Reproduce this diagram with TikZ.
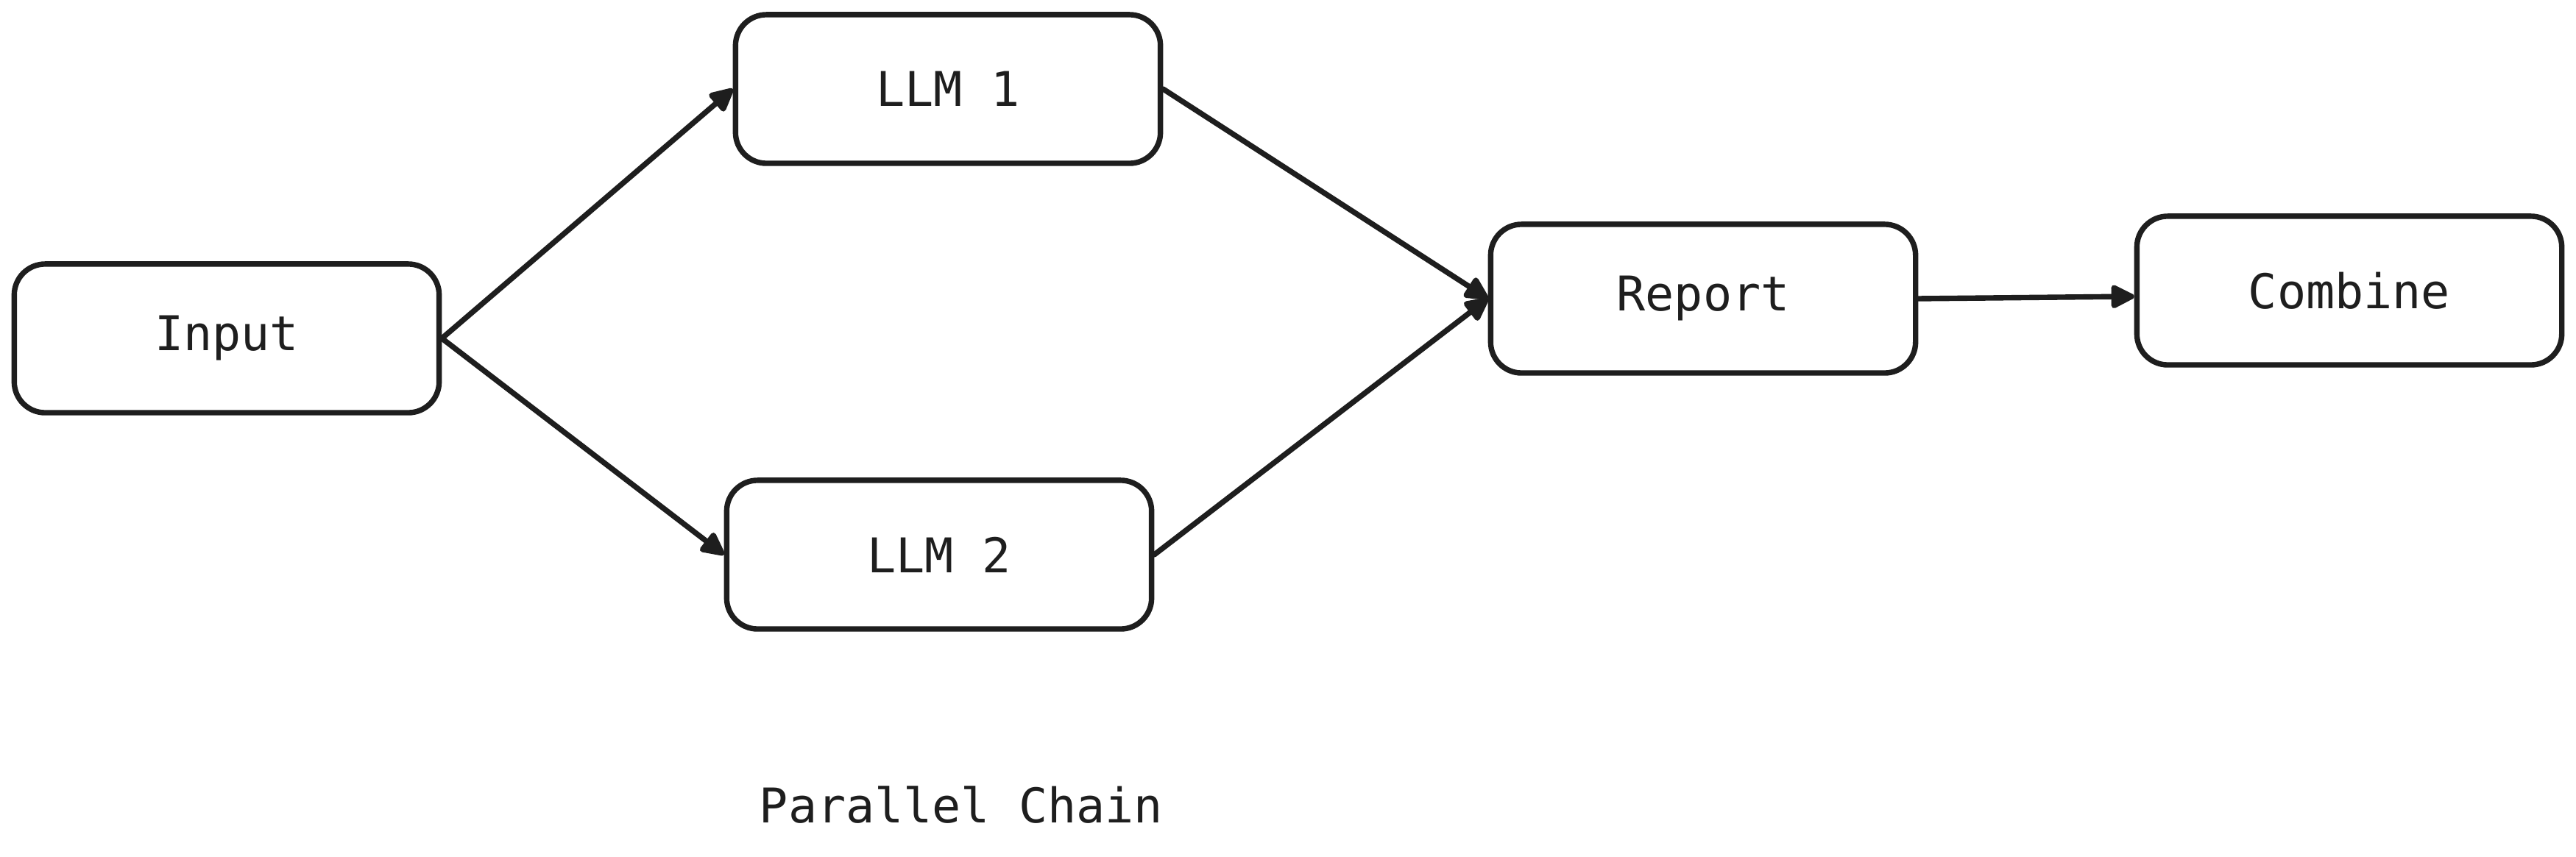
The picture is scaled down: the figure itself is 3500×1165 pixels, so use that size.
\documentclass[tikz,border=0pt]{standalone}
\usepackage{fontspec}
\setmonofont{DejaVu Sans Mono}
\usetikzlibrary{arrows.meta}
\definecolor{ink}{HTML}{1E1E1E}
\tikzset{
  box/.style={draw=ink, line width=2.1pt, rounded corners=0.42cm, fill=white,
    minimum width=5.77cm, minimum height=2.02cm, inner sep=0pt,
    text=ink, font=\ttfamily\fontsize{18.5}{22}\selectfont},
  conn/.style={draw=ink, line width=2.1pt, line cap=round,
    -{Triangle[length=0.36cm,width=0.34cm,round]}},
  caption/.style={text=ink, font=\ttfamily\fontsize{18.5}{22}\selectfont, inner sep=0pt}
}
\begin{document}
\begin{tikzpicture}[x=0.01cm,y=-0.01cm]
\useasboundingbox[fill=white] (0,0) rectangle (3500,1165);
\node[box] (in) at (308,460) {Input};
\node[box] (l1) at (1288,121) {LLM 1};
\node[box] (l2) at (1276,754) {LLM 2};
\node[box] (rep) at (2314,406) {Report};
\node[box] (comb) at (3192,395) {Combine};
\node[caption] (cap) at (1306,1094) {Parallel Chain};
\draw[conn] (in.east) -- (l1.west);
\draw[conn] (in.east) -- (l2.west);
\draw[conn] (l1.east) -- (rep.west);
\draw[conn] (l2.east) -- (rep.west);
\draw[conn] (rep.east) -- ([yshift=0.03cm]comb.west |- rep.east);
\end{tikzpicture}
\end{document}
